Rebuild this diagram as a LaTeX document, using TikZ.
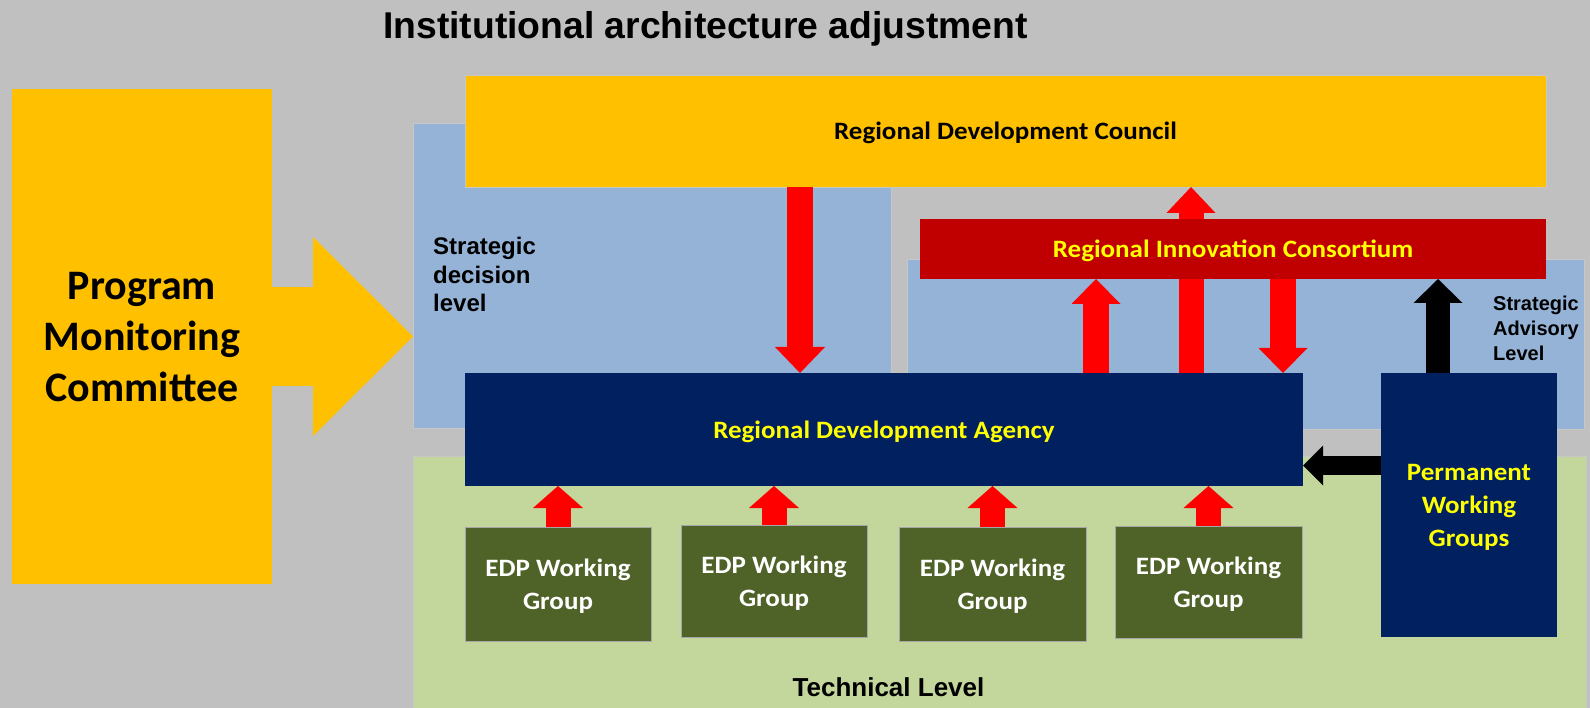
\documentclass[tikz,border=0pt]{standalone}
\usepackage{fontspec}
\setmainfont{Carlito}
\newfontfamily\calibri{Carlito}
\newfontfamily\calx[FakeStretch=1.08]{Carlito}
\newfontfamily\arialb{Liberation Sans}
\usetikzlibrary{arrows.meta}
\definecolor{bg}{HTML}{C0C0C0}
\definecolor{gold}{HTML}{FFC000}
\definecolor{skyb}{HTML}{95B3D7}
\definecolor{lgreen}{HTML}{C3D69B}
\definecolor{dred}{HTML}{C00000}
\definecolor{navy}{HTML}{002060}
\definecolor{olive}{HTML}{4F6228}
\definecolor{bred}{HTML}{FF0000}
\definecolor{ytext}{HTML}{FFFF00}
\tikzset{
  box/.style={rectangle, inner sep=0pt, outer sep=0pt, anchor=north west},
  region/.style={box, draw=black!22, line width=0.7pt},
  boxtext/.style={font=\calx\bfseries\fontsize{25}{33}\selectfont, align=center, text depth=0pt},
  lbl/.style={inner sep=0pt, anchor=base west, font=\arialb\bfseries\fontsize{24}{28.5}\selectfont},
  lblsmall/.style={lbl, font=\arialb\bfseries\fontsize{20}{25}\selectfont},
  blockarrow/.style n args={4}{draw=#1, line width=#2, -{Triangle[width=#3,length=#4,line width=0pt]}},
}
\begin{document}
\begin{tikzpicture}[x=1pt,y=-1pt]
\fill[bg] (0,0) rectangle (1590,708);
\useasboundingbox (0,0) rectangle (1590,708);

% level regions
\node[region, fill=skyb, minimum width=478pt, minimum height=305pt] (blueL) at (413,123) {};
\node[region, fill=skyb, minimum width=677pt, minimum height=170pt] (blueR) at (907,259) {};
\node[region, fill=lgreen, minimum width=1173pt, minimum height=252pt] (green) at (413,456) {};

\node[lbl] (sdl1) at (433,255) {Strategic};
\node[lbl] (sdl2) at (433,283.5) {decision};
\node[lbl] (sdl3) at (433,312) {level};
\node[lblsmall] (sal1) at (1493,311) {Strategic};
\node[lblsmall] (sal2) at (1493,336) {Advisory};
\node[lblsmall] (sal3) at (1493,361) {Level};
\node[lbl, anchor=base, font=\arialb\bfseries\fontsize{26}{31}\selectfont] (tl) at (888.5,696) {Technical Level};

% title
\node[anchor=base west, inner sep=0pt, font=\arialb\bfseries\fontsize{37.3}{44}\selectfont] (title) at (383,39) {Institutional architecture adjustment};

% program monitoring committee
\node[box, fill=gold, minimum width=260pt, minimum height=495pt, align=center, text depth=-5pt,
      font=\calibri\bfseries\fontsize{42}{51}\selectfont] (pmc) at (12,89) {Program\\Monitoring\\Committee};
\draw[blockarrow={gold}{99pt}{199pt}{100pt}] (pmc.east) -- (pmc.east -| blueL.west);

% main boxes
\node[region, fill=gold, minimum width=1081pt, minimum height=112pt, boxtext] (rdc) at (465,75) {Regional Development Council};
\node[box, fill=navy, minimum width=838pt, minimum height=113pt, boxtext, text=ytext] (rda) at (465,373) {Regional Development Agency};
\node[box, fill=navy, minimum width=176pt, minimum height=264pt, boxtext, text=ytext] (pwg) at (1381,373) {Permanent\\Working\\Groups};

\node[box, fill=olive, draw=black!35, line width=0.5pt, minimum width=186pt, minimum height=114pt, boxtext, text=white] (edp1) at (465,527) {EDP Working\\Group};
\node[box, fill=olive, draw=black!35, line width=0.5pt, minimum width=186pt, minimum height=112pt, boxtext, text=white] (edp2) at (681,525) {EDP Working\\Group};
\node[box, fill=olive, draw=black!35, line width=0.5pt, minimum width=187pt, minimum height=114pt, boxtext, text=white] (edp3) at (899,527) {EDP Working\\Group};
\node[box, fill=olive, draw=black!35, line width=0.5pt, minimum width=187pt, minimum height=112pt, boxtext, text=white] (edp4) at (1115,526) {EDP Working\\Group};

% x positions of vertical arrows
\coordinate (xd) at (800,0);
\coordinate (xc) at (1191,0);
\coordinate (xl) at (1096,0);
\coordinate (xr) at (1283,0);
\coordinate (xb) at (1438,0);
\coordinate (yb) at (0,465.5);

% arrow from the agency to the council (behind the consortium)
\draw[blockarrow={bred}{25pt}{49pt}{26pt}] (rda.north -| xc) -- (rdc.south -| xc);

\node[box, fill=dred, minimum width=626pt, minimum height=60pt, boxtext, text=ytext] (ric) at (920,219) {Regional Innovation Consortium};

\draw[blockarrow={bred}{26pt}{50pt}{26pt}] (rdc.south -| xd) -- (rda.north -| xd);
\draw[blockarrow={bred}{26pt}{49pt}{25pt}] (rda.north -| xl) -- (ric.south -| xl);
\draw[blockarrow={bred}{26pt}{49pt}{25pt}] (ric.south -| xr) -- (rda.north -| xr);
\draw[blockarrow={black}{24pt}{49pt}{24pt}] (pwg.north -| xb) -- (ric.south -| xb);
\draw[blockarrow={black}{19pt}{40pt}{20pt}] (pwg.west |- yb) -- (rda.east |- yb);

\draw[blockarrow={bred}{25pt}{50pt}{22pt}] (edp1.north) -- (edp1.north |- rda.south);
\draw[blockarrow={bred}{25pt}{50pt}{22pt}] (edp2.north) -- (edp2.north |- rda.south);
\draw[blockarrow={bred}{25pt}{50pt}{22pt}] (edp3.north) -- (edp3.north |- rda.south);
\draw[blockarrow={bred}{25pt}{50pt}{22pt}] (edp4.north) -- (edp4.north |- rda.south);
\end{tikzpicture}
\end{document}
